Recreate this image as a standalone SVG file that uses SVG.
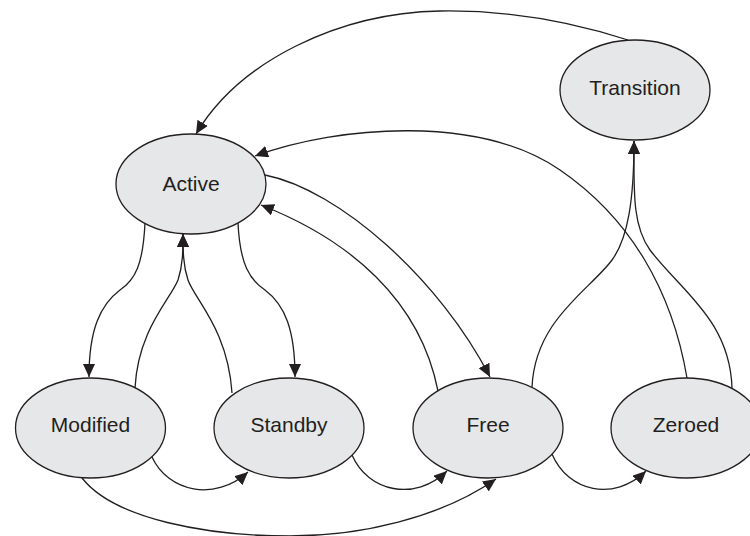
<svg xmlns="http://www.w3.org/2000/svg" width="750" height="536" viewBox="0 0 750 536">
<defs>
<style>
.node ellipse{fill:#e6e7e8;stroke:#231f20;stroke-width:1.3}
.node text{font-family:"Liberation Sans",Arial,Helvetica,sans-serif;font-size:21px;fill:#231f20;text-anchor:middle}
.edges path{fill:none;stroke:#231f20;stroke-width:1.3;marker-end:url(#arr)}
</style>
<marker id="arr" viewBox="0 0 13 12" refX="13" refY="6" markerWidth="13" markerHeight="12" markerUnits="userSpaceOnUse" orient="auto">
<path d="M0,0 L13,6 L0,12 z" fill="#231f20"/>
</marker>
</defs>
<rect width="750" height="536" fill="#ffffff"/>
<g id="node-active" class="node"><ellipse cx="191" cy="184" rx="75" ry="50"/><text x="191" y="191">Active</text></g>
<g id="node-transition" class="node"><ellipse cx="635" cy="90" rx="75" ry="50"/><text x="635" y="95">Transition</text></g>
<g id="node-modified" class="node"><ellipse cx="90.5" cy="428" rx="75" ry="50"/><text x="90.5" y="432">Modified</text></g>
<g id="node-standby" class="node"><ellipse cx="289" cy="428" rx="75" ry="50"/><text x="289" y="432">Standby</text></g>
<g id="node-free" class="node"><ellipse cx="488" cy="428" rx="75" ry="50"/><text x="488" y="432">Free</text></g>
<g id="node-zeroed" class="node"><ellipse cx="686" cy="428" rx="75" ry="50"/><text x="686" y="432">Zeroed</text></g>
<g id="connectors" class="edges">
<path d="M628,40 C560,18 500,10 440,11 C340,13 240,60 196,134"/>
<path d="M687,378 C672,290 630,218 560,170 C480,115 340,125 255,156"/>
<path d="M732,388 C730,320 680,290 650,250 C632,225 634,190 634,141"/>
<path d="M532,387 C535,320 590,290 612,260 C628,238 634,200 634,141"/>
<path d="M265,175 C340,190 440,280 490,377"/>
<path d="M438,391 C420,300 350,240 261,205"/>
<path d="M238,223 C240,265 250,280 265,290 C285,305 295,330 295,377"/>
<path d="M145,223 C143,265 135,280 120,290 C100,305 89,330 89,377"/>
<path d="M232,393 C228,330 195,300 188,280 C183,265 183,250 183,234"/>
<path d="M135,388 C138,330 170,300 178,280 C183,265 183,250 183,234"/>
<path d="M152,457 C168,492 215,502 248,472"/>
<path d="M352,455 C368,492 415,502 447,471"/>
<path d="M552,454 C568,492 614,502 646,471"/>
<path d="M82,478 C115,520 210,536 290,536 C360,536 440,518 496,479"/>
</g>
</svg>
